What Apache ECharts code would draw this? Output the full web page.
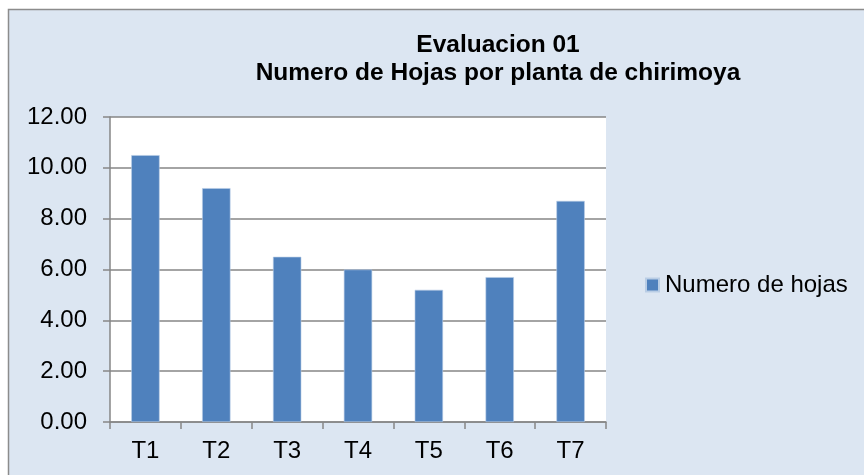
<!DOCTYPE html>
<html>
<head>
<meta charset="utf-8">
<script src="https://cdn.jsdelivr.net/npm/echarts@6/dist/echarts.min.js"></script>
<style>
  html, body { margin: 0; padding: 0; background: #ffffff; }
  #chart { width: 864px; height: 475px; }
</style>
</head>
<body>
<div id="chart"></div>
<script>
const categories = ['T1', 'T2', 'T3', 'T4', 'T5', 'T6', 'T7'];
const hojas = [10.5, 9.2, 6.5, 6.0, 5.2, 5.7, 8.7];
const seriesName = 'Numero de hojas';
const titleText = 'Evaluacion 01\nNumero de Hojas por planta de chirimoya';

const FONT = '"Liberation Sans", Arial, sans-serif';
const chart = echarts.init(document.getElementById('chart'), null, { renderer: 'canvas' });

chart.setOption({
  animation: false,
  backgroundColor: '#ffffff',
  graphic: [{
    type: 'rect',
    z: -10,
    silent: true,
    shape: { x: 8.5, y: 9.5, width: 900, height: 500 },
    style: { fill: '#dce6f2', stroke: '#8c8c8c', lineWidth: 1.5 }
  }],
  title: {
    text: titleText,
    left: 498,
    top: 31,
    padding: 0,
    textAlign: 'center',
    textStyle: {
      fontFamily: FONT,
      fontWeight: 'bold',
      fontSize: 24.5,
      lineHeight: 28,
      color: '#000000'
    }
  },
  legend: {
    left: 645,
    top: 273,
    padding: 0,
    itemWidth: 13,
    itemHeight: 13,
    itemGap: 4,
    icon: 'rect',
    textStyle: { fontFamily: FONT, fontSize: 24, color: '#000000', padding: [0, 0, 0, 1] },
    data: [seriesName]
  },
  grid: { left: 110, right: 258, top: 117, bottom: 53, containLabel: false,
          show: true, backgroundColor: '#ffffff', borderWidth: 0 },
  xAxis: {
    type: 'category',
    data: categories,
    axisLine: { show: true, lineStyle: { color: '#868686', width: 1.5 } },
    axisTick: { show: true, length: 7, lineStyle: { color: '#868686', width: 1.5 } },
    axisLabel: { fontFamily: FONT, fontSize: 24, color: '#000000', margin: 17 },
    splitLine: { show: false }
  },
  yAxis: {
    type: 'value',
    min: 0,
    max: 12,
    interval: 2,
    axisLine: { show: true, lineStyle: { color: '#868686', width: 1.5 } },
    axisTick: { show: true, length: 7, lineStyle: { color: '#868686', width: 1.5 } },
    axisLabel: {
      fontFamily: FONT, fontSize: 24, color: '#000000', margin: 23,
      formatter: function (v) { return v.toFixed(2); }
    },
    splitLine: { show: true, lineStyle: { color: '#868686', width: 1.5 } }
  },
  series: [{
    name: seriesName,
    type: 'bar',
    data: hojas,
    barWidth: '40%',
    itemStyle: { color: '#4f81bd', borderColor: '#b9cde5', borderWidth: 0.6 }
  }]
});
</script>
</body>
</html>
